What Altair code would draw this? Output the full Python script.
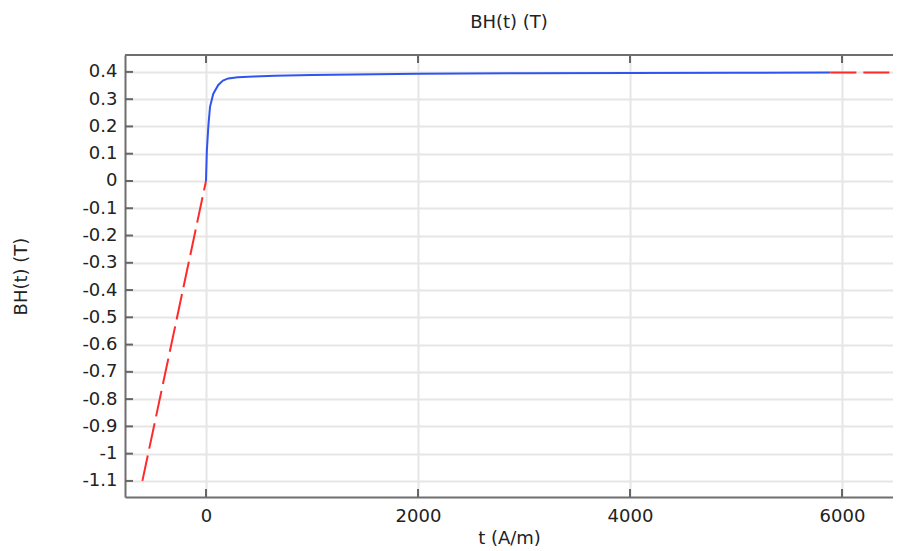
import altair as alt
import pandas as pd

# Blue (interpolated data) curve
blue_h = [0, 8, 22, 38, 69, 116, 160, 210, 300, 450, 650, 1000, 2000, 3000, 4000, 5000, 5890]
blue_b = [0, 0.11, 0.2, 0.272, 0.32, 0.352, 0.368, 0.376, 0.380, 0.383, 0.386, 0.389, 0.393, 0.395, 0.396, 0.397, 0.398]

# Red dashed extrapolation segments
red_left_h = [-600, 0]
red_left_b = [-1.1, 0]
red_right_h = [5890, 6500]
red_right_b = [0.398, 0.398]

x_ticks = [0, 2000, 4000, 6000]
y_ticks = [0.4, 0.3, 0.2, 0.1, 0, -0.1, -0.2, -0.3, -0.4, -0.5, -0.6, -0.7, -0.8, -0.9, -1, -1.1]

X_DOMAIN = [-764, 6481]
Y_DOMAIN = [-1.159, 0.462]

W, H = 768, 442
FONT = "DejaVu Sans"
FS = 18

blue_df = pd.DataFrame({"t": blue_h, "B": blue_b})
red_df = pd.DataFrame({
    "t": red_left_h + red_right_h,
    "B": red_left_b + red_right_b,
    "seg": ["left"] * 2 + ["right"] * 2,
})
xt_df = pd.DataFrame({"t": x_ticks})
yt_df = pd.DataFrame({"B": y_ticks})

xs = alt.Scale(domain=X_DOMAIN, nice=False, zero=False)
ys = alt.Scale(domain=Y_DOMAIN, nice=False, zero=False)

x_axis = alt.Axis(
    values=x_ticks, format="d", title="t (A/m)", grid=True, gridColor="#e6e6e6", gridWidth=2,
    ticks=False, domainColor="#6e6e6e", domainWidth=2, labelFont=FONT, labelFontSize=FS,
    labelColor="#222222", labelPadding=10, labelOverlap=False, titleFont=FONT, titleFontSize=FS,
    titleFontWeight="normal", titleColor="#222222", titlePadding=4, labelFlush=False,
)
y_axis = alt.Axis(
    values=y_ticks, title="BH(t) (T)", grid=True, gridColor="#e6e6e6", gridWidth=2,
    ticks=False, domainColor="#6e6e6e", domainWidth=2, labelFont=FONT, labelFontSize=FS,
    labelColor="#222222", labelPadding=8, labelOverlap=False, labelBound=False,
    labelFlush=False, titleFont=FONT, titleFontSize=FS,
    titleFontWeight="normal", titleColor="#222222", titlePadding=51,
    labelExpr="replace(format(datum.value, '~g'), '\u2212', '-')",
)

base_blue = alt.Chart(blue_df).mark_line(color="#2f55ee", strokeWidth=2, clip=True).encode(
    x=alt.X("t:Q", scale=xs, axis=x_axis),
    y=alt.Y("B:Q", scale=ys, axis=y_axis),
)

red = alt.Chart(red_df).mark_line(color="#ff2a2a", strokeWidth=2, strokeDash=[26, 7], clip=True).encode(
    x=alt.X("t:Q", scale=xs, axis=x_axis),
    y=alt.Y("B:Q", scale=ys, axis=y_axis),
    detail="seg:N",
)

tick_color = "#666666"
bottom_ticks = alt.Chart(xt_df).mark_rule(color=tick_color, strokeWidth=2).encode(
    x=alt.X("t:Q", scale=xs, axis=x_axis), y=alt.value(H - 8), y2=alt.value(H)
)
top_ticks = alt.Chart(xt_df).mark_rule(color=tick_color, strokeWidth=2).encode(
    x=alt.X("t:Q", scale=xs, axis=x_axis), y=alt.value(0), y2=alt.value(8)
)
left_ticks = alt.Chart(yt_df).mark_rule(color=tick_color, strokeWidth=2).encode(
    y=alt.Y("B:Q", scale=ys, axis=y_axis), x=alt.value(0), x2=alt.value(8)
)
top_border = alt.Chart(xt_df).mark_rule(color="#6e6e6e", strokeWidth=2).encode(
    x=alt.value(0), x2=alt.value(W), y=alt.value(0)
)

chart = alt.layer(base_blue, red, bottom_ticks, top_ticks, left_ticks, top_border).properties(
    width=W, height=H,
    title=alt.TitleParams("BH(t) (T)", font=FONT, fontSize=FS, fontWeight="normal",
                          color="#222222", anchor="middle", offset=22),
    autosize=alt.AutoSizeParams(type="none"),
    padding={"left": 117, "top": 47, "right": 0, "bottom": 56},
).configure_view(stroke=None).configure_axis(labelOverlap=False)

chart.save("out.html", embed_options={"renderer": "svg", "actions": False})
